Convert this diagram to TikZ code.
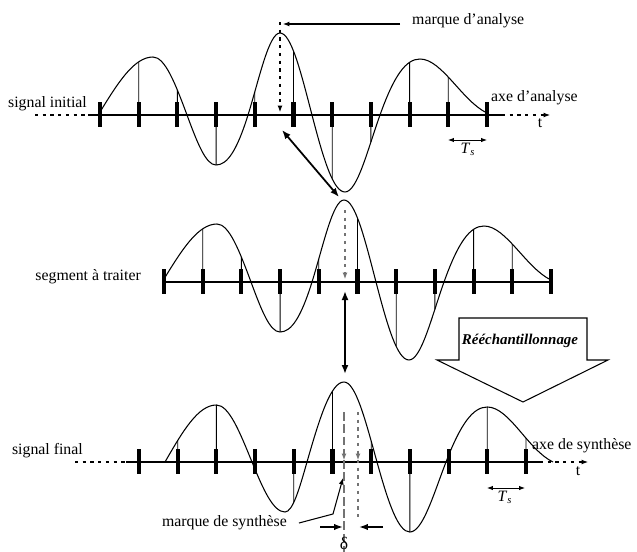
\documentclass[tikz,border=0pt]{standalone}
\usepackage{fontspec}
\setmainfont{Liberation Serif}
\usepackage{tikz}
\usetikzlibrary{arrows.meta,positioning,calc,intersections}
\tikzset{
  axe/.style={line width=0.6pt},
  barre/.style={line width=2.3pt},
  ech/.style={line width=0.5pt},
  sig/.style={line width=0.6pt},
  fl/.style={-{Latex[length=1.3mm,width=1mm]}},
  grfl/.style={-{Latex[length=1.8mm,width=1.3mm]},line width=1pt},
  dfl/.style={{Latex[length=1.8mm,width=1.4mm]}-{Latex[length=1.8mm,width=1.4mm]},line width=1pt},
  cote/.style={{Latex[length=1.2mm,width=0.9mm]}-{Latex[length=1.2mm,width=0.9mm]},line width=0.5pt},
  tiret/.style={dash pattern=on 1.8pt off 2.6pt,line width=0.6pt},
  longtiret/.style={dash pattern=on 5pt off 2pt,line width=0.6pt},
  gris/.style={draw=black!55,color=black!55},
}

\begin{document}
\begin{tikzpicture}[x={(0.02cm,0)},y={(0,-0.02cm)},font=\fontsize{9}{11}\selectfont]
  \useasboundingbox (0,0) rectangle (637,552);
  % signal initial
  \begin{scope}[shift={(100,115)}]
    \draw[tiret] (-65,0) -- (-12,0);
    \draw[axe] (-12,0) -- (402,0);
    \draw[tiret,fl] (402,0) -- (450,0);
    \foreach \k in {0,...,10} \draw[barre] (\k*38.7,-13) -- (\k*38.7,12);
    \draw[sig,name path=sa] (0,-3) .. controls +(18.6,-30.4) and +(-18.6,0) .. (53,-58)
      .. controls +(11.9,0) and +(-11.9,-32.1) .. (87,0)
      .. controls +(10.2,27.5) and +(-10.2,0) .. (116,50)
      .. controls +(11.2,0) and +(-11.2,35.9) .. (148,0)
      .. controls +(11.2,-35.9) and +(-11.2,0) .. (180,-82)
      .. controls +(11.2,0) and +(-11.2,-43.1) .. (212,0)
      .. controls +(11.6,44.7) and +(-11.6,0) .. (245,77)
      .. controls +(12.3,0) and +(-12.3,34.4) .. (280,0)
      .. controls +(14.1,-39.5) and +(-14.1,0) .. (320,-56)
      .. controls +(22,0) and +(-25,-12) .. (387,-2);
    \foreach \k in {1,...,9} {
      \path[name path=v] (\k*38.7,-120) -- (\k*38.7,120);
      \draw[ech,name intersections={of=sa and v}] (\k*38.7,0) -- (intersection-1);
    }
  \end{scope}
  \node[anchor=east] (sigi) at (93,103.5) {signal initial};
  \node[anchor=west] (axa) at (485,98) {axe d’analyse};
  \node (ta) at (540,123) {t};
  \node[anchor=west] (mana) at (406,21) {marque d’analyse};
  \coordinate (pmax) at (283,24);
  \draw[axe,fl] (mana.west |- pmax) ++(-6,0) -- (pmax);
  \draw[tiret,fl] (280,22) -- (280,112);
  \draw[cote] (448,140) -- (487,140);
  \node (tsa) at (468,149) {\textit{T}\textsubscript{\textit{s}}};
  \draw[dfl] (282,130) -- (339,197);
  % segment a traiter
  \begin{scope}[shift={(164,282)}]
    \draw[axe] (0,0) -- (387,0);
    \foreach \k in {0,...,10} \draw[barre] (\k*38.7,-13) -- (\k*38.7,12);
    \draw[sig,name path=sb] (0,-3) .. controls +(18.6,-30.4) and +(-18.6,0) .. (53,-58)
      .. controls +(11.9,0) and +(-11.9,-32.1) .. (87,0)
      .. controls +(10.2,27.5) and +(-10.2,0) .. (116,50)
      .. controls +(11.2,0) and +(-11.2,35.9) .. (148,0)
      .. controls +(11.2,-35.9) and +(-11.2,0) .. (180,-82)
      .. controls +(11.2,0) and +(-11.2,-43.1) .. (212,0)
      .. controls +(11.6,44.7) and +(-11.6,0) .. (245,78)
      .. controls +(12.3,0) and +(-12.3,34.4) .. (280,0)
      .. controls +(14.1,-39.5) and +(-14.1,0) .. (320,-56)
      .. controls +(22,0) and +(-25,-12) .. (387,-2);
    \foreach \k in {1,...,9} {
      \path[name path=v] (\k*38.7,-120) -- (\k*38.7,120);
      \draw[ech,name intersections={of=sb and v}] (\k*38.7,0) -- (intersection-1);
    }
  \end{scope}
  \node[anchor=east] (seg) at (147,276.5) {segment à traiter};
  \draw[gris,tiret,fl] (345,210) -- (345,279);
  \draw[dfl] (345,291) -- (345,374);
  % reechantillonnage
  \draw[axe] (459,318) -- (587,318) -- (587,360) -- (608,360) -- (523,402)
    -- (437,360) -- (459,360) -- cycle;
  \node[font=\fontsize{8.5}{10}\selectfont\bfseries\itshape] (reech) at (520,341) {Rééchantillonnage};
  % signal final
  \begin{scope}[shift={(139,462)}]
    \draw[tiret] (-64,0) -- (-13,0);
    \draw[axe] (-13,0) -- (401,0);
    \draw[tiret,fl] (401,0) -- (449,0);
    \foreach \k in {0,...,10} \draw[barre] (\k*38.7,-13) -- (\k*38.7,12);
    \draw[sig,name path=sc] (26,0) .. controls +(18.1,-31.5) and +(-18.1,0) .. (77.4,-57)
      .. controls +(12.5,0) and +(-12.5,-30.6) .. (113,0)
      .. controls +(11.6,28.4) and +(-11.6,0) .. (146,50)
      .. controls +(7.7,0) and +(-7.7,27) .. (168,0)
      .. controls +(13,-45.5) and +(-13,0) .. (205,-80)
      .. controls +(11.6,0) and +(-11.6,-41.8) .. (238,0)
      .. controls +(11.6,41.8) and +(-11.6,0) .. (270.9,70)
      .. controls +(12.7,0) and +(-12.7,33) .. (307,0)
      .. controls +(14.5,-37.7) and +(-14.5,0) .. (348.3,-55)
      .. controls +(22,0) and +(-25,-12) .. (414,0);
    \foreach \k in {1,2,4,5,6,7,9,10} {
      \path[name path=v] (\k*38.7,-120) -- (\k*38.7,120);
      \draw[ech,name intersections={of=sc and v}] (\k*38.7,0) -- (intersection-1);
    }
  \end{scope}
  \node[anchor=east] (sigf) at (89,451) {signal final};
  \node[anchor=west] (axs) at (526,446) {axe de synthèse};
  \node (tb) at (578,471) {t};
  \draw[cote] (487,488) -- (525,488);
  \node (tsb) at (505,497) {\textit{T}\textsubscript{\textit{s}}};
  \draw[gris,longtiret,fl] (344,412) -- (344,460);
  \draw[gris,longtiret] (344,460) -- (344,552);
  \draw[gris,tiret,fl] (358,412) -- (358,460);
  \draw[gris,tiret] (358,460) -- (358,518);
  \node[anchor=east] (msyn) at (293,523) {marque de synthèse};
  \coordinate (psyn) at (343,478);
  \draw[axe,fl] (msyn.east) ++(6,0) -- (333,514) -- (psyn);
  \draw[grfl] (320,527) -- (343,527);
  \draw[grfl] (383,527) -- (359,527);
  \node[font=\fontsize{10}{11}\selectfont,inner sep=0pt] (delta) at (344,543) {δ};
\end{tikzpicture}
\end{document}
